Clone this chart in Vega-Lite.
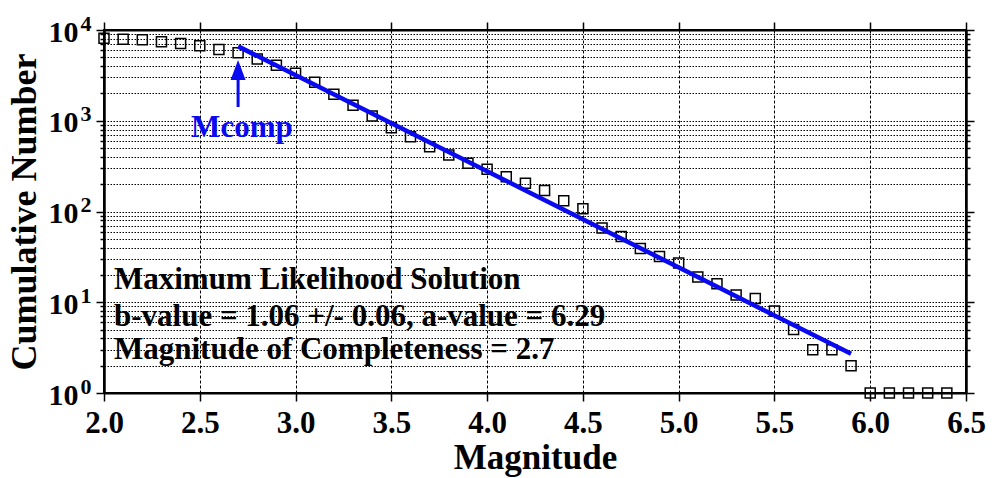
{
  "$schema": "https://vega.github.io/schema/vega-lite/v6.json",
  "width": 862,
  "height": 363,
  "autosize": "none",
  "padding": {"left": 104, "top": 30, "right": 27, "bottom": 85},
  "background": "white",
  "config": {
    "view": {"stroke": "black", "strokeWidth": 2},
    "axis": {
      "labelFont": "Liberation Serif",
      "titleFont": "Liberation Serif",
      "labelFontWeight": "bold",
      "titleFontWeight": "bold",
      "labelColor": "black",
      "titleColor": "black",
      "domainColor": "black",
      "domainWidth": 2,
      "tickColor": "black",
      "tickWidth": 1.5,
      "gridColor": "black",
      "gridOpacity": 1,
      "labelOverlap": false,
      "labelBound": false,
      "labelFlush": false
    }
  },
  "datasets": {
    "points": [
      {"M": 2.0, "N": 8100}, {"M": 2.1, "N": 7900}, {"M": 2.2, "N": 7800},
      {"M": 2.3, "N": 7400}, {"M": 2.4, "N": 7100}, {"M": 2.5, "N": 6700},
      {"M": 2.6, "N": 6100}, {"M": 2.7, "N": 5600}, {"M": 2.8, "N": 4800},
      {"M": 2.9, "N": 4100}, {"M": 3.0, "N": 3330}, {"M": 3.1, "N": 2650},
      {"M": 3.2, "N": 1960}, {"M": 3.3, "N": 1480}, {"M": 3.4, "N": 1130},
      {"M": 3.5, "N": 838}, {"M": 3.6, "N": 667}, {"M": 3.7, "N": 518},
      {"M": 3.8, "N": 419}, {"M": 3.9, "N": 340}, {"M": 4.0, "N": 292},
      {"M": 4.1, "N": 242}, {"M": 4.2, "N": 205}, {"M": 4.3, "N": 170},
      {"M": 4.4, "N": 131}, {"M": 4.5, "N": 107}, {"M": 4.6, "N": 66},
      {"M": 4.7, "N": 53}, {"M": 4.8, "N": 39}, {"M": 4.9, "N": 32},
      {"M": 5.0, "N": 27}, {"M": 5.1, "N": 19}, {"M": 5.2, "N": 16},
      {"M": 5.3, "N": 12}, {"M": 5.4, "N": 11}, {"M": 5.5, "N": 8},
      {"M": 5.6, "N": 5}, {"M": 5.7, "N": 3}, {"M": 5.8, "N": 3},
      {"M": 5.9, "N": 2}, {"M": 6.0, "N": 1}, {"M": 6.1, "N": 1},
      {"M": 6.2, "N": 1}, {"M": 6.3, "N": 1}, {"M": 6.4, "N": 1}
    ],
    "fit": [
      {"M": 2.7, "N": 6600},
      {"M": 5.9, "N": 2.7}
    ],
    "arrow": [
      {"M": 2.7, "Nbot": 1418, "Ntop": 3190, "Nhead": 3625}
    ],
    "mcomp": [
      {"M": 2.72, "N": 832, "label": "Mcomp"}
    ],
    "annot": [
      {"M": 2.052, "N": 17.6, "label": "Maximum Likelihood Solution"},
      {"M": 2.052, "N": 6.88, "label": "b-value = 1.06 +/- 0.06,  a-value = 6.29"},
      {"M": 2.052, "N": 2.98, "label": "Magnitude of Completeness = 2.7"}
    ]
  },
  "layer": [
    {
      "data": {"name": "points"},
      "mark": {"type": "point", "shape": "square", "size": 100, "filled": false, "stroke": "black", "strokeWidth": 1.5, "opacity": 1},
      "encoding": {
        "x": {
          "field": "M", "type": "quantitative",
          "scale": {"domain": [2, 6.5], "nice": false, "zero": false},
          "axis": {
            "orient": "bottom",
            "values": [2, 2.5, 3, 3.5, 4, 4.5, 5, 5.5, 6, 6.5],
            "format": ".1f",
            "labelFontSize": 31,
            "tickSize": 8,
            "labelPadding": 7,
            "grid": true,
            "gridDash": [3, 2],
            "gridWidth": 1,
            "title": "Magnitude",
            "titleFontSize": 35,
            "titlePadding": 2
          }
        },
        "y": {
          "field": "N", "type": "quantitative",
          "scale": {"type": "log", "domain": [1, 10000], "nice": false},
          "axis": {
            "orient": "left",
            "values": [1, 10, 100, 1000, 10000],
            "labelExpr": "'10'",
            "labelFontSize": 30,
            "labelOffset": 2,
            "tickSize": 8,
            "labelPadding": 18,
            "grid": true,
            "gridDash": [1.5, 1.5],
            "gridWidth": 1,
            "title": "Cumulative Number",
            "titleFontSize": 36,
            "titlePadding": 5
          }
        }
      }
    },
    {
      "data": {"name": "fit"},
      "mark": {"type": "line", "color": "#0a0af0", "strokeWidth": 4.5},
      "encoding": {
        "x": {
          "field": "M", "type": "quantitative",
          "scale": {"domain": [2, 6.5], "nice": false, "zero": false},
          "axis": {
            "orient": "top",
            "values": [2, 2.5, 3, 3.5, 4, 4.5, 5, 5.5, 6, 6.5],
            "labels": false,
            "tickSize": 8,
            "grid": false,
            "title": null
          }
        },
        "y": {
          "field": "N", "type": "quantitative",
          "scale": {"type": "log", "domain": [1, 10000], "nice": false},
          "axis": {
            "orient": "left",
            "values": [2, 3, 4, 5, 6, 7, 8, 9, 20, 30, 40, 50, 60, 70, 80, 90, 200, 300, 400, 500, 600, 700, 800, 900, 2000, 3000, 4000, 5000, 6000, 7000, 8000, 9000],
            "labels": false,
            "tickSize": 4,
            "grid": true,
            "gridDash": [1.5, 1.5],
            "gridWidth": 1,
            "title": null
          }
        }
      }
    },
    {
      "data": {"name": "arrow"},
      "mark": {"type": "rule", "color": "#0a0af0", "strokeWidth": 3},
      "encoding": {
        "x": {"field": "M", "type": "quantitative", "scale": {"domain": [2, 6.5], "nice": false, "zero": false}, "axis": null},
        "y": {
          "field": "Nbot", "type": "quantitative",
          "scale": {"type": "log", "domain": [1, 10000], "nice": false},
          "axis": {
            "orient": "right",
            "values": [1, 10, 100, 1000, 10000],
            "labels": false,
            "tickSize": 8,
            "grid": false,
            "title": null
          }
        },
        "y2": {"field": "Ntop"}
      }
    },
    {
      "data": {"name": "arrow"},
      "mark": {"type": "point", "shape": "M0,-1L0.75,1L-0.75,1Z", "size": 400, "filled": true, "color": "#0a0af0", "opacity": 1},
      "encoding": {
        "x": {"field": "M", "type": "quantitative", "scale": {"domain": [2, 6.5], "nice": false, "zero": false}, "axis": null},
        "y": {
          "field": "Nhead", "type": "quantitative",
          "scale": {"type": "log", "domain": [1, 10000], "nice": false},
          "axis": {
            "orient": "right",
            "values": [2, 3, 4, 5, 6, 7, 8, 9, 20, 30, 40, 50, 60, 70, 80, 90, 200, 300, 400, 500, 600, 700, 800, 900, 2000, 3000, 4000, 5000, 6000, 7000, 8000, 9000],
            "labels": false,
            "tickSize": 4,
            "grid": false,
            "title": null
          }
        }
      }
    },
    {
      "data": {"name": "mcomp"},
      "mark": {"type": "text", "font": "Liberation Serif", "fontWeight": "bold", "fontSize": 31, "color": "#0a0af0", "align": "center", "baseline": "middle"},
      "encoding": {
        "x": {"field": "M", "type": "quantitative", "scale": {"domain": [2, 6.5], "nice": false, "zero": false}, "axis": null},
        "y": {
          "field": "N", "type": "quantitative",
          "scale": {"type": "log", "domain": [1, 10000], "nice": false},
          "axis": {
            "orient": "left",
            "values": [1, 10, 100, 1000, 10000],
            "labelExpr": "format(log(datum.value) / LN10, '.0f')",
            "labelFontSize": 22,
            "labelOffset": -7,
            "labelPadding": 13,
            "ticks": false,
            "domain": false,
            "grid": false,
            "title": null
          }
        },
        "text": {"field": "label"}
      }
    },
    {
      "data": {"name": "annot"},
      "mark": {"type": "text", "font": "Liberation Serif", "fontWeight": "bold", "fontSize": 31, "color": "black", "align": "left", "baseline": "middle"},
      "encoding": {
        "x": {"field": "M", "type": "quantitative", "scale": {"domain": [2, 6.5], "nice": false, "zero": false}, "axis": null},
        "y": {"field": "N", "type": "quantitative", "scale": {"type": "log", "domain": [1, 10000], "nice": false}, "axis": null},
        "text": {"field": "label"}
      }
    }
  ],
  "resolve": {
    "scale": {"x": "shared", "y": "shared"},
    "axis": {"x": "independent", "y": "independent"}
  }
}
